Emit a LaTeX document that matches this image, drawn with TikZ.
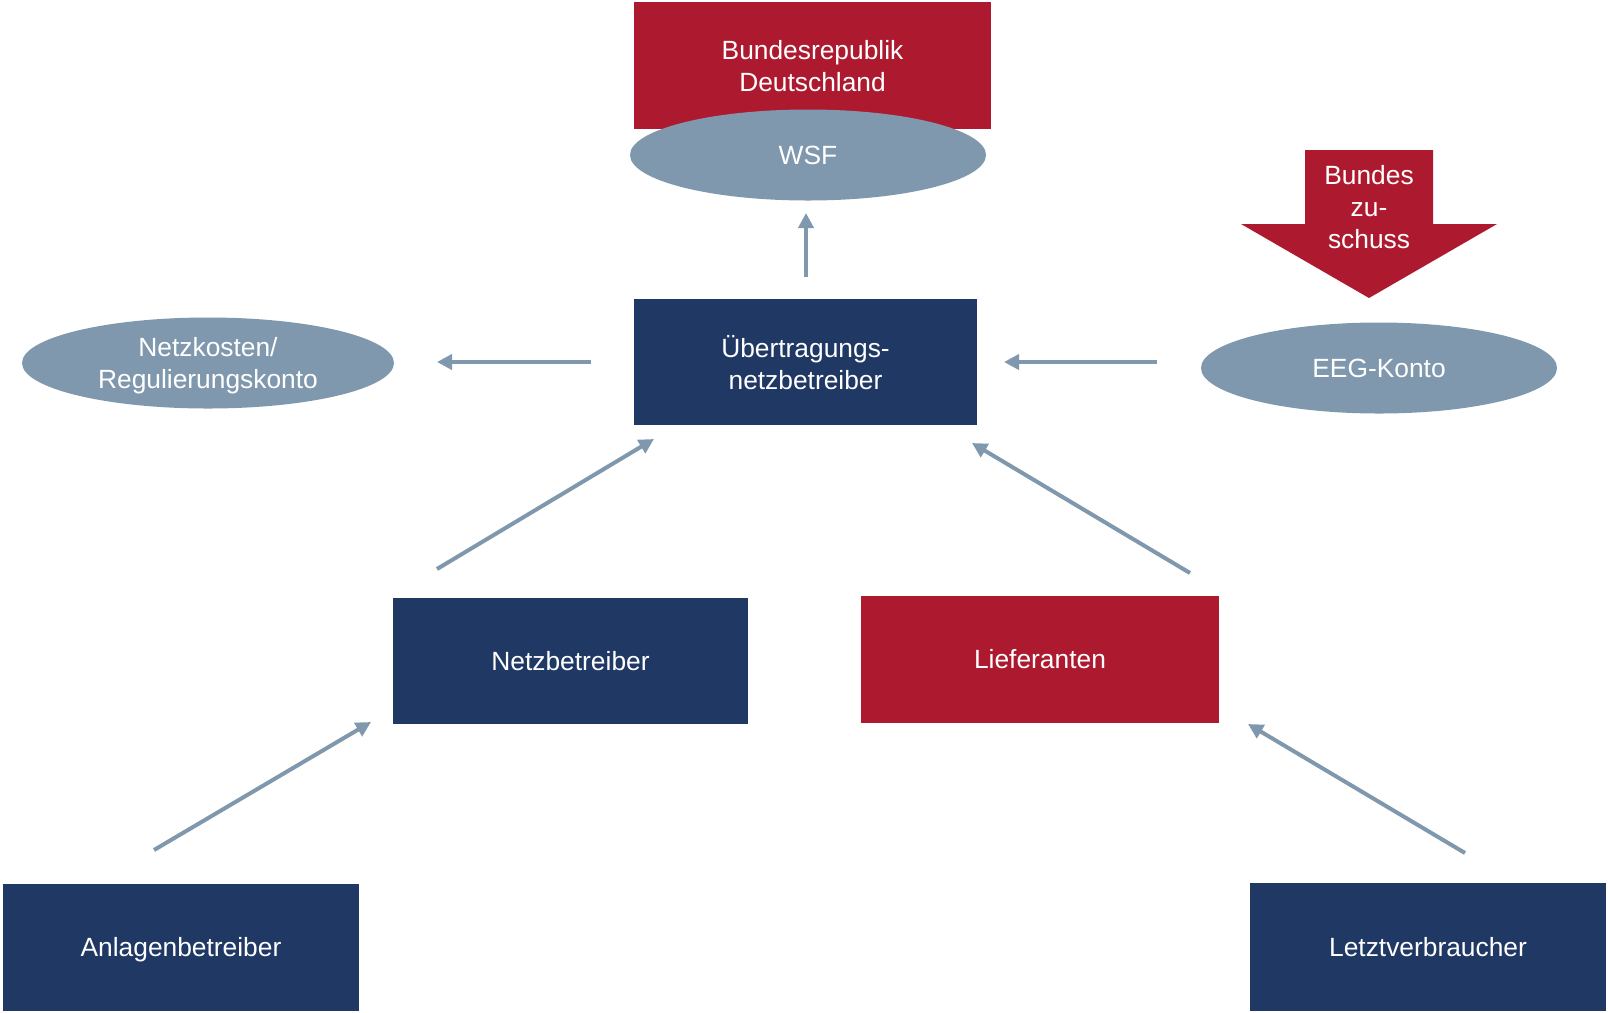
\documentclass[tikz,border=0pt]{standalone}
\usepackage{fontspec}
\setmainfont{Liberation Sans}
\usetikzlibrary{positioning,calc,arrows.meta,shapes.geometric}
\definecolor{eegblue}{HTML}{203864}
\definecolor{eegred}{HTML}{AD1A2F}
\definecolor{eeggray}{HTML}{7F98AD}

\begin{document}
\begin{tikzpicture}[
  x=0.02cm, y=-0.02cm,
  every node/.style={font=\fontsize{15}{18.2}\selectfont, text=white, align=center, inner sep=0pt, text depth=0pt},
  blueBox/.style={rectangle, fill=eegblue, minimum height=126*0.02cm},
  redBox/.style={rectangle, fill=eegred, minimum height=127*0.02cm},
  account/.style={ellipse, fill=eeggray, minimum height=91*0.02cm},
  flow/.style={draw=eeggray, line width=0.08cm, -{Triangle[length=0.3cm,width=0.3cm]}},
]
\useasboundingbox (0,0) rectangle (1608,1012);
% upper part
\node[redBox, minimum width=357*0.02cm] (brd) at (812.5,65.5) {Bundesrepublik\\Deutschland};
\node[account, minimum width=356*0.02cm] (wsf) at (808,155) {WSF};
\node[blueBox, minimum width=343*0.02cm] (uenb) at (805.5,362) {Übertragungs-\\netzbetreiber};
\node[account, minimum width=372*0.02cm] (netzk) at (208,363) {Netzkosten/\\Regulierungskonto};
\node[account, minimum width=356*0.02cm] (eeg) at (1379,368) {EEG-Konto};
% Bundeszuschuss arrow
\fill[eegred] (1305,150) -- (1433,150) -- (1433,224) -- (1497,224) -- (1369,298)
  -- (1241,224) -- (1305,224) -- cycle;
\node (zuschuss) at (1369,207) {Bundes\\zu-\\schuss};
% lower part
\node[blueBox, minimum width=355*0.02cm] (nb) at (570.5,660.5) {Netzbetreiber};
\node[redBox, minimum width=358*0.02cm] (lief) at (1040,659) {Lieferanten};
\node[blueBox, minimum width=356*0.02cm, minimum height=127*0.02cm] (anl) at (181,947) {Anlagenbetreiber};
\node[blueBox, minimum width=356*0.02cm, minimum height=128*0.02cm] (letzt) at (1428,946.5) {Letztverbraucher};
% arrow ends
\coordinate (uenb-up) at (806,277);
\coordinate (wsf-in) at (806,213);
\coordinate (uenb-left) at (591,362);
\coordinate (netzk-in) at (437,362);
\coordinate (eeg-out) at (1157,362);
\coordinate (uenb-right) at (1004,362);
\coordinate (nb-out) at (437,569);
\coordinate (uenb-bl) at (654,439);
\coordinate (lief-out) at (1190,573);
\coordinate (uenb-br) at (972,443);
\coordinate (anl-out) at (154,850);
\coordinate (nb-in) at (371,722);
\coordinate (letzt-out) at (1465,853);
\coordinate (lief-in) at (1248,724);
\foreach \a/\b in {uenb-up/wsf-in, uenb-left/netzk-in, eeg-out/uenb-right,
  nb-out/uenb-bl, lief-out/uenb-br, anl-out/nb-in, letzt-out/lief-in} {
  \draw[flow] (\a) -- (\b);
}
\end{tikzpicture}
\end{document}
